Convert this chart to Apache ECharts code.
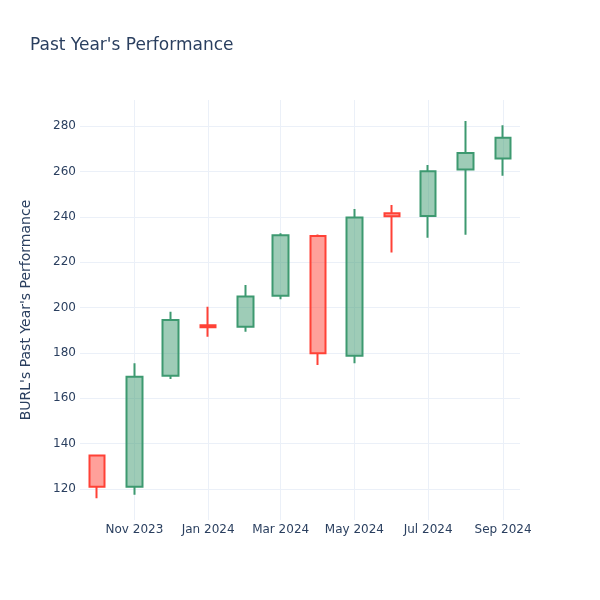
<!DOCTYPE html>
<html>
<head>
<meta charset="utf-8">
<script src="https://cdn.jsdelivr.net/npm/echarts@6/dist/echarts.min.js"></script>
<style>html,body{margin:0;padding:0;background:#fff}#c{width:600px;height:600px}</style>
</head>
<body>
<div id="c"></div>
<script>
var dates = ['2023-10-01','2023-11-01','2023-12-01','2024-01-01','2024-02-01','2024-03-01','2024-04-01','2024-05-01','2024-06-01','2024-07-01','2024-08-01','2024-09-01'];
var opens  = [134.7, 121.0, 169.9, 192.2, 191.5, 205.2, 231.5, 178.7, 241.6, 240.4, 260.9, 265.7];
var closes = [121.0, 169.5, 194.5, 191.3, 204.8, 231.9, 179.8, 239.7, 240.2, 260.1, 268.1, 274.8];
var lows   = [115.9, 117.4, 168.5, 187.1, 189.3, 203.6, 174.6, 175.4, 224.3, 230.8, 232.1, 258.1];
var highs  = [134.9, 175.4, 198.1, 200.3, 209.9, 232.7, 232.2, 243.4, 245.2, 262.8, 282.2, 280.4];
var monthNames = ['Jan','Feb','Mar','Apr','May','Jun','Jul','Aug','Sep','Oct','Nov','Dec'];

function utc(s){ var p = s.split('-'); return Date.UTC(+p[0], +p[1]-1, +p[2]); }
var data = dates.map(function(d,i){ return [utc(d), opens[i], closes[i], lows[i], highs[i]]; });

var chart = echarts.init(document.getElementById('c'), null, {renderer:'canvas'});
var txt = '#2a3f5f';
var grid = '#EBF0F8';
chart.setOption({
  useUTC: true,
  animation: false,
  backgroundColor: '#fff',
  textStyle: { fontFamily: 'DejaVu Sans' },
  title: {
    text: "Past Year's Performance",
    left: 30, top: 37, padding: 0,
    textStyle: { fontFamily: 'DejaVu Sans', fontSize: 17, fontWeight: 'normal', color: txt }
  },
  grid: { left: 80, right: 80, top: 100, bottom: 80, containLabel: false },
  xAxis: {
    type: 'time',
    min: Date.UTC(2023, 8, 17),
    max: Date.UTC(2024, 8, 15),
    splitNumber: 6,
    minInterval: 55*24*3600*1000,
    axisLine: { show: false },
    axisTick: { show: false },
    splitLine: { show: true, showMinLine: false, showMaxLine: false, lineStyle: { color: grid, width: 1 } },
    axisLabel: {
      color: txt, fontSize: 12, fontFamily: 'DejaVu Sans', margin: 4,
      hideOverlap: false,
      formatter: function(v){
        var d = new Date(v);
        if (d.getUTCDate() !== 1 || d.getUTCMonth() % 2 !== 0) return '';
        return monthNames[d.getUTCMonth()] + ' ' + d.getUTCFullYear();
      }
    }
  },
  yAxis: {
    type: 'value',
    min: 106.3,
    max: 291.5,
    splitNumber: 9,
    scale: true,
    name: "BURL's Past Year's Performance",
    nameLocation: 'middle',
    nameGap: 47,
    nameTextStyle: { color: txt, fontSize: 14, fontFamily: 'DejaVu Sans' },
    axisLine: { show: false },
    axisTick: { show: false },
    splitLine: { show: true, showMinLine: false, showMaxLine: false, lineStyle: { color: grid, width: 1 } },
    axisLabel: { color: txt, fontSize: 12, fontFamily: 'DejaVu Sans', margin: 4, showMinLabel: false, showMaxLabel: false }
  },
  series: [{
    type: 'candlestick',
    data: data,
    encode: { x: 0, y: [1, 2, 3, 4] },
    barWidth: 16,
    itemStyle: {
      color: 'rgba(61,153,112,0.5)',
      color0: 'rgba(255,65,54,0.5)',
      borderColor: '#3D9970',
      borderColor0: '#FF4136',
      borderWidth: 2
    }
  }]
});
</script>
</body>
</html>
